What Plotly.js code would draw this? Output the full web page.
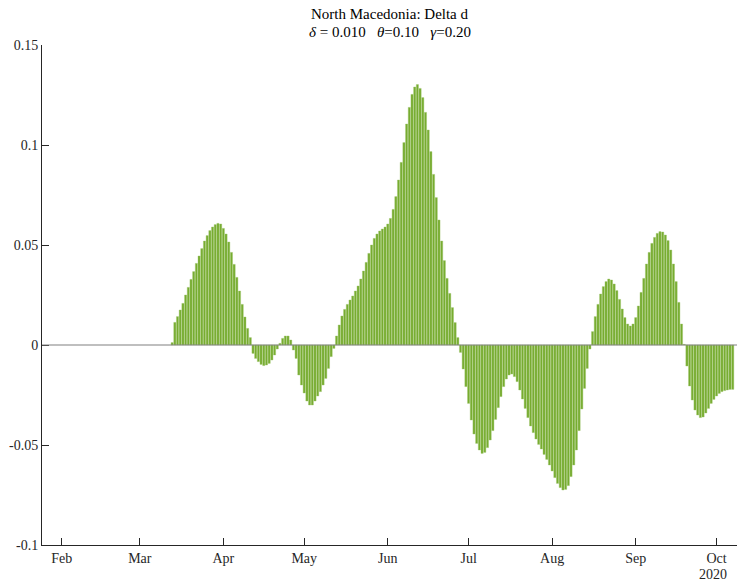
<!DOCTYPE html>
<html>
<head>
<meta charset="utf-8">
<script src="https://cdn.plot.ly/plotly-3.0.1.min.js"></script>
<style>
  html, body { margin: 0; padding: 0; background: #ffffff; }
  #chart { width: 737px; height: 582px; }
</style>
</head>
<body>
<div id="chart"></div>
<script>
// ---- data (daily values) ----
const startDate = '2020-03-13';

const marAprValues = [0.0012, 0.0113, 0.0142, 0.0175, 0.0208, 0.025, 0.0288, 0.0328, 0.0367, 0.0408,
  0.0445, 0.0482, 0.052, 0.0547, 0.0572, 0.059, 0.0602, 0.0608, 0.0605, 0.0583,
  0.0555, 0.0515, 0.0463, 0.0403, 0.0338, 0.027, 0.0203, 0.014, 0.0083, 0.0037];
const aprValues = [-0.0042, -0.0067, -0.0083, -0.0097, -0.0103, -0.01, -0.0092, -0.0075, -0.005, -0.002,
  0.0008, 0.0033, 0.0045, 0.0045, 0.0025];
const mayValues = [-0.0025, -0.0067, -0.015, -0.02, -0.024, -0.028, -0.030, -0.030, -0.028, -0.0255,
  -0.0233, -0.02, -0.0167, -0.0117, -0.0058, -0.0017];
const junValues = [0.0045, 0.01, 0.0145, 0.0178, 0.0203, 0.0225, 0.0245, 0.027, 0.0295, 0.033,
  0.037, 0.0413, 0.0458, 0.05, 0.0533, 0.0555, 0.057, 0.058, 0.059, 0.0605,
  0.0633, 0.0678, 0.0742, 0.0825, 0.0913, 0.1012, 0.1105, 0.1188, 0.1253, 0.129,
  0.1302, 0.1283, 0.1237, 0.1163, 0.1075, 0.0967, 0.0853, 0.0737, 0.0625, 0.052,
  0.0422, 0.0333, 0.0258, 0.0187, 0.0112, 0.0037];
const julAugValues = [-0.0037, -0.012, -0.0208, -0.0292, -0.0375, -0.0445, -0.0492, -0.0525, -0.0542, -0.0537,
  -0.0513, -0.0475, -0.0428, -0.0372, -0.0313, -0.0258, -0.0208, -0.017, -0.015, -0.0145,
  -0.0158, -0.0183, -0.0225, -0.027, -0.0317, -0.0363, -0.0405, -0.0438, -0.047, -0.0497,
  -0.052, -0.0547, -0.0572, -0.06, -0.063, -0.0663, -0.0692, -0.0713, -0.0725, -0.0722,
  -0.0703, -0.0658, -0.06, -0.0525, -0.0428, -0.032, -0.0217, -0.0117, -0.002];
const sepValues = [0.0067, 0.0142, 0.0203, 0.0255, 0.0292, 0.0317, 0.033, 0.0325, 0.0305, 0.0272,
  0.0228, 0.018, 0.0137, 0.0105, 0.0095, 0.0105, 0.0137, 0.0195, 0.0263, 0.0333,
  0.0405, 0.0463, 0.0508, 0.0538, 0.0558, 0.0567, 0.0565, 0.055, 0.0522, 0.0475,
  0.0405, 0.0317, 0.0213, 0.0105, 0.0003];
const octValues = [-0.0105, -0.0205, -0.0275, -0.0325, -0.035, -0.0363, -0.036, -0.034, -0.0317, -0.0292,
  -0.0272, -0.0255, -0.0242, -0.0233, -0.0228, -0.0225, -0.0222, -0.0222];

const xTickDates = ['2020-02-01', '2020-03-01', '2020-04-01', '2020-05-01', '2020-06-01',
  '2020-07-01', '2020-08-01', '2020-09-01', '2020-10-01'];
const xTickLabels = ['Feb', 'Mar', 'Apr', 'May', 'Jun', 'Jul', 'Aug', 'Sep', 'Oct'];
const yTickValues = [-0.1, -0.05, 0, 0.05, 0.1, 0.15];
const yTickLabels = ['-0.1', '-0.05', '0', '0.05', '0.1', '0.15'];
const xRange = ['2020-01-24 17:00', '2020-10-08 14:00'];
const titleLine1 = 'North Macedonia: Delta d';
const titleLine2 = '<i>δ</i> = 0.010\u00a0\u00a0 <i>θ</i>=0.10\u00a0\u00a0 <i>γ</i>=0.20';
const yearLabel = '2020';

// ---- build series ----
const values = [].concat(marAprValues, aprValues, mayValues, junValues, julAugValues, sepValues, octValues);
const dates = [];
const t0 = Date.parse(startDate + 'T00:00:00Z');
for (let i = 0; i < values.length; i++) {
  const d = new Date(t0 + i * 86400000);
  dates.push(d.toISOString().slice(0, 10));
}

const FONT = 'Liberation Serif, Times New Roman, serif';
const AXIS = '#262626';

const trace = {
  type: 'bar',
  x: dates,
  y: values,
  marker: { color: '#77AC30', line: { width: 0.4, color: '#9cc46a' } },
  hoverinfo: 'x+y'
};

const layout = {
  width: 737,
  height: 582,
  margin: { l: 42, r: 0, t: 45, b: 37, pad: 0 },
  paper_bgcolor: '#ffffff',
  plot_bgcolor: '#ffffff',
  bargap: 0.2,
  showlegend: false,
  font: { family: FONT, size: 14, color: AXIS },
  xaxis: {
    type: 'date',
    range: xRange,
    tickmode: 'array',
    tickvals: xTickDates,
    ticktext: xTickLabels,
    ticks: 'inside',
    ticklen: 7,
    tickwidth: 1,
    tickcolor: AXIS,
    showline: true,
    linecolor: AXIS,
    linewidth: 1,
    showgrid: false,
    zeroline: false,
    mirror: false,
    tickfont: { family: FONT, size: 14, color: AXIS }
  },
  yaxis: {
    range: [-0.1, 0.15],
    tickmode: 'array',
    tickvals: yTickValues,
    ticktext: yTickLabels,
    ticks: 'inside',
    ticklen: 7,
    tickwidth: 1,
    tickcolor: AXIS,
    showline: true,
    linecolor: AXIS,
    linewidth: 1,
    showgrid: false,
    zeroline: false,
    mirror: false,
    tickfont: { family: FONT, size: 14, color: AXIS }
  },
  shapes: [{
    type: 'line', layer: 'above',
    xref: 'paper', x0: 0, x1: 1,
    yref: 'y', y0: 0, y1: 0,
    line: { color: '#808080', width: 1.2 }
  }],
  annotations: [
    {
      text: titleLine1,
      xref: 'paper', x: 0.5, xanchor: 'center',
      yref: 'paper', y: 1 + 31 / 500, yanchor: 'middle',
      showarrow: false,
      font: { family: FONT, size: 15, color: '#000000' }
    },
    {
      text: titleLine2,
      xref: 'paper', x: 0.5, xanchor: 'center',
      yref: 'paper', y: 1 + 13 / 500, yanchor: 'middle',
      showarrow: false,
      font: { family: FONT, size: 15, color: '#000000' }
    },
    {
      text: yearLabel,
      xref: 'paper', x: 0.965, xanchor: 'center',
      yref: 'paper', y: -(574 - 545) / 500, yanchor: 'middle',
      showarrow: false,
      font: { family: FONT, size: 14, color: AXIS }
    }
  ]
};

Plotly.newPlot('chart', [trace], layout, { displayModeBar: false, staticPlot: true });
</script>
</body>
</html>
